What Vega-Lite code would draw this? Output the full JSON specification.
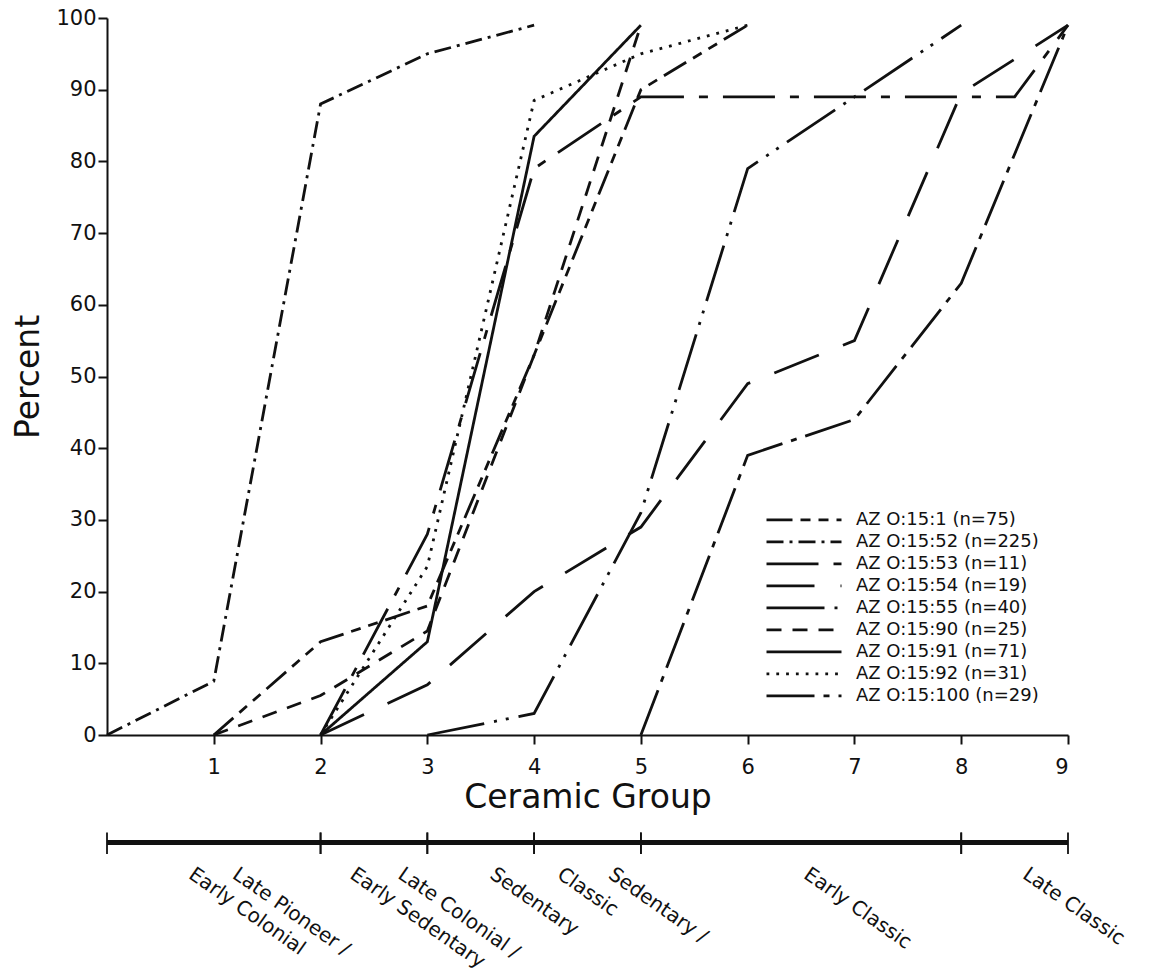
{
  "$schema": "https://vega.github.io/schema/vega-lite/v6.json",
  "width": 961,
  "height": 717,
  "autosize": {"type": "none"},
  "padding": {"left": 107, "top": 18, "right": 88, "bottom": 243},
  "background": "white",
  "config": {
    "view": {"stroke": null},
    "font": "DejaVu Sans",
    "axis": {
      "domainColor": "#111", "domainWidth": 2, "tickColor": "#111", "tickWidth": 2,
      "labelColor": "#111", "titleColor": "#111", "grid": false,
      "labelFont": "DejaVu Sans", "titleFont": "DejaVu Sans", "titleFontWeight": "normal",
      "labelFontSize": 21, "titleFontSize": 33
    }
  },
  "datasets": {
    "series": [
      {"site": "AZ O:15:1 (n=75)", "group": 1, "pct": 0},
      {"site": "AZ O:15:1 (n=75)", "group": 2, "pct": 13},
      {"site": "AZ O:15:1 (n=75)", "group": 3, "pct": 18},
      {"site": "AZ O:15:1 (n=75)", "group": 4, "pct": 53},
      {"site": "AZ O:15:1 (n=75)", "group": 5, "pct": 90},
      {"site": "AZ O:15:1 (n=75)", "group": 6, "pct": 99},
      {"site": "AZ O:15:52 (n=225)", "group": 0, "pct": 0},
      {"site": "AZ O:15:52 (n=225)", "group": 1, "pct": 7.5},
      {"site": "AZ O:15:52 (n=225)", "group": 2, "pct": 88},
      {"site": "AZ O:15:52 (n=225)", "group": 3, "pct": 95},
      {"site": "AZ O:15:52 (n=225)", "group": 4, "pct": 99},
      {"site": "AZ O:15:53 (n=11)", "group": 2, "pct": 0},
      {"site": "AZ O:15:53 (n=11)", "group": 3, "pct": 28},
      {"site": "AZ O:15:53 (n=11)", "group": 4, "pct": 79},
      {"site": "AZ O:15:53 (n=11)", "group": 5, "pct": 89},
      {"site": "AZ O:15:53 (n=11)", "group": 8.5, "pct": 89},
      {"site": "AZ O:15:53 (n=11)", "group": 9, "pct": 99},
      {"site": "AZ O:15:54 (n=19)", "group": 2, "pct": 0},
      {"site": "AZ O:15:54 (n=19)", "group": 3, "pct": 7},
      {"site": "AZ O:15:54 (n=19)", "group": 4, "pct": 20},
      {"site": "AZ O:15:54 (n=19)", "group": 5, "pct": 29},
      {"site": "AZ O:15:54 (n=19)", "group": 6, "pct": 49},
      {"site": "AZ O:15:54 (n=19)", "group": 7, "pct": 55},
      {"site": "AZ O:15:54 (n=19)", "group": 8, "pct": 89.5},
      {"site": "AZ O:15:54 (n=19)", "group": 9, "pct": 99},
      {"site": "AZ O:15:55 (n=40)", "group": 3, "pct": 0},
      {"site": "AZ O:15:55 (n=40)", "group": 4, "pct": 3},
      {"site": "AZ O:15:55 (n=40)", "group": 5, "pct": 31},
      {"site": "AZ O:15:55 (n=40)", "group": 6, "pct": 79},
      {"site": "AZ O:15:55 (n=40)", "group": 7, "pct": 89},
      {"site": "AZ O:15:55 (n=40)", "group": 8, "pct": 99},
      {"site": "AZ O:15:90 (n=25)", "group": 1, "pct": 0},
      {"site": "AZ O:15:90 (n=25)", "group": 2, "pct": 5.5},
      {"site": "AZ O:15:90 (n=25)", "group": 3, "pct": 14.5},
      {"site": "AZ O:15:90 (n=25)", "group": 4, "pct": 53},
      {"site": "AZ O:15:90 (n=25)", "group": 5, "pct": 99},
      {"site": "AZ O:15:91 (n=71)", "group": 2, "pct": 0},
      {"site": "AZ O:15:91 (n=71)", "group": 3, "pct": 13},
      {"site": "AZ O:15:91 (n=71)", "group": 4, "pct": 83.5},
      {"site": "AZ O:15:91 (n=71)", "group": 5, "pct": 99},
      {"site": "AZ O:15:92 (n=31)", "group": 2, "pct": 0},
      {"site": "AZ O:15:92 (n=31)", "group": 3, "pct": 23.5},
      {"site": "AZ O:15:92 (n=31)", "group": 4, "pct": 88.5},
      {"site": "AZ O:15:92 (n=31)", "group": 5, "pct": 95},
      {"site": "AZ O:15:92 (n=31)", "group": 6, "pct": 99},
      {"site": "AZ O:15:100 (n=29)", "group": 5, "pct": 0},
      {"site": "AZ O:15:100 (n=29)", "group": 6, "pct": 39},
      {"site": "AZ O:15:100 (n=29)", "group": 7, "pct": 44},
      {"site": "AZ O:15:100 (n=29)", "group": 8, "pct": 63},
      {"site": "AZ O:15:100 (n=29)", "group": 9, "pct": 99}
    ],
    "periods": [
      {"from": 0, "to": 2, "period": "Late Pioneer / Early Colonial"},
      {"from": 2, "to": 3, "period": "Late Colonial / Early Sedentary"},
      {"from": 3, "to": 4, "period": "Sedentary"},
      {"from": 4, "to": 5, "period": "Sedentary / Classic"},
      {"from": 5, "to": 8, "period": "Early Classic"},
      {"from": 8, "to": 9, "period": "Late Classic"}
    ],
    "periodLabels": [
      {"text": "Late Pioneer /", "at": 1.25},
      {"text": "Early Colonial", "at": 0.84},
      {"text": "Late Colonial /", "at": 2.8},
      {"text": "Early Sedentary", "at": 2.35},
      {"text": "Sedentary", "at": 3.66},
      {"text": "Sedentary /", "at": 4.77},
      {"text": "Classic", "at": 4.29},
      {"text": "Early Classic", "at": 6.6},
      {"text": "Late Classic", "at": 8.65}
    ]
  },
  "layer": [
    {
      "data": {"name": "series"},
      "mark": {"type": "line", "strokeWidth": 2.8, "color": "#111", "strokeCap": "butt", "strokeJoin": "miter"},
      "encoding": {
        "x": {
          "field": "group", "type": "quantitative",
          "scale": {"domain": [0, 9], "nice": false},
          "axis": {"values": [1, 2, 3, 4, 5, 6, 7, 8, 9], "format": "d", "title": "Ceramic Group", "tickSize": 9, "labelPadding": 12, "titlePadding": 4}
        },
        "y": {
          "field": "pct", "type": "quantitative",
          "scale": {"domain": [0, 100], "nice": false},
          "axis": {"values": [0, 10, 20, 30, 40, 50, 60, 70, 80, 90, 100], "format": "d", "title": "Percent", "tickSize": 9, "labelPadding": 2, "titlePadding": 10}
        },
        "strokeDash": {
          "field": "site", "type": "nominal",
          "scale": {
            "domain": ["AZ O:15:1 (n=75)", "AZ O:15:52 (n=225)", "AZ O:15:53 (n=11)", "AZ O:15:54 (n=19)", "AZ O:15:55 (n=40)", "AZ O:15:90 (n=25)", "AZ O:15:91 (n=71)", "AZ O:15:92 (n=31)", "AZ O:15:100 (n=29)"],
            "range": [[26, 8, 10, 8, 10, 8], [17, 6, 3, 6], [52, 15, 9, 15], [48, 26], [58, 10, 3, 9, 3, 10], [15, 11], [1, 0], [2.8, 7], [48, 9, 6, 9]]
          },
          "legend": {
            "orient": "none", "legendX": 658, "legendY": 492, "title": null,
            "symbolType": "stroke", "symbolSize": 5625, "symbolStrokeWidth": 2.8, "symbolStrokeColor": "#111",
            "labelFontSize": 18, "labelFont": "DejaVu Sans", "labelColor": "#111", "labelLimit": 300,
            "clipHeight": 19.6, "rowPadding": 2, "labelOffset": 13, "padding": 0
          }
        }
      }
    },
    {
      "data": {"name": "periods"},
      "mark": {"type": "rule", "strokeWidth": 5, "color": "#111"},
      "encoding": {"x": {"field": "from", "type": "quantitative"}, "x2": {"field": "to"}, "y": {"datum": -15}}
    },
    {
      "data": {"name": "periods"},
      "mark": {"type": "rule", "strokeWidth": 1.8, "color": "#111"},
      "encoding": {"x": {"field": "from", "type": "quantitative"}, "y": {"datum": -13.6}, "y2": {"datum": -16.6}}
    },
    {
      "data": {"name": "periods"},
      "mark": {"type": "rule", "strokeWidth": 1.8, "color": "#111"},
      "encoding": {"x": {"field": "to", "type": "quantitative"}, "y": {"datum": -13.6}, "y2": {"datum": -16.6}}
    },
    {
      "data": {"name": "periodLabels"},
      "mark": {"type": "text", "angle": 35, "align": "left", "baseline": "top", "fontSize": 20, "font": "DejaVu Sans", "color": "#111"},
      "encoding": {"x": {"field": "at", "type": "quantitative"}, "y": {"datum": -18}, "text": {"field": "text"}}
    }
  ]
}
